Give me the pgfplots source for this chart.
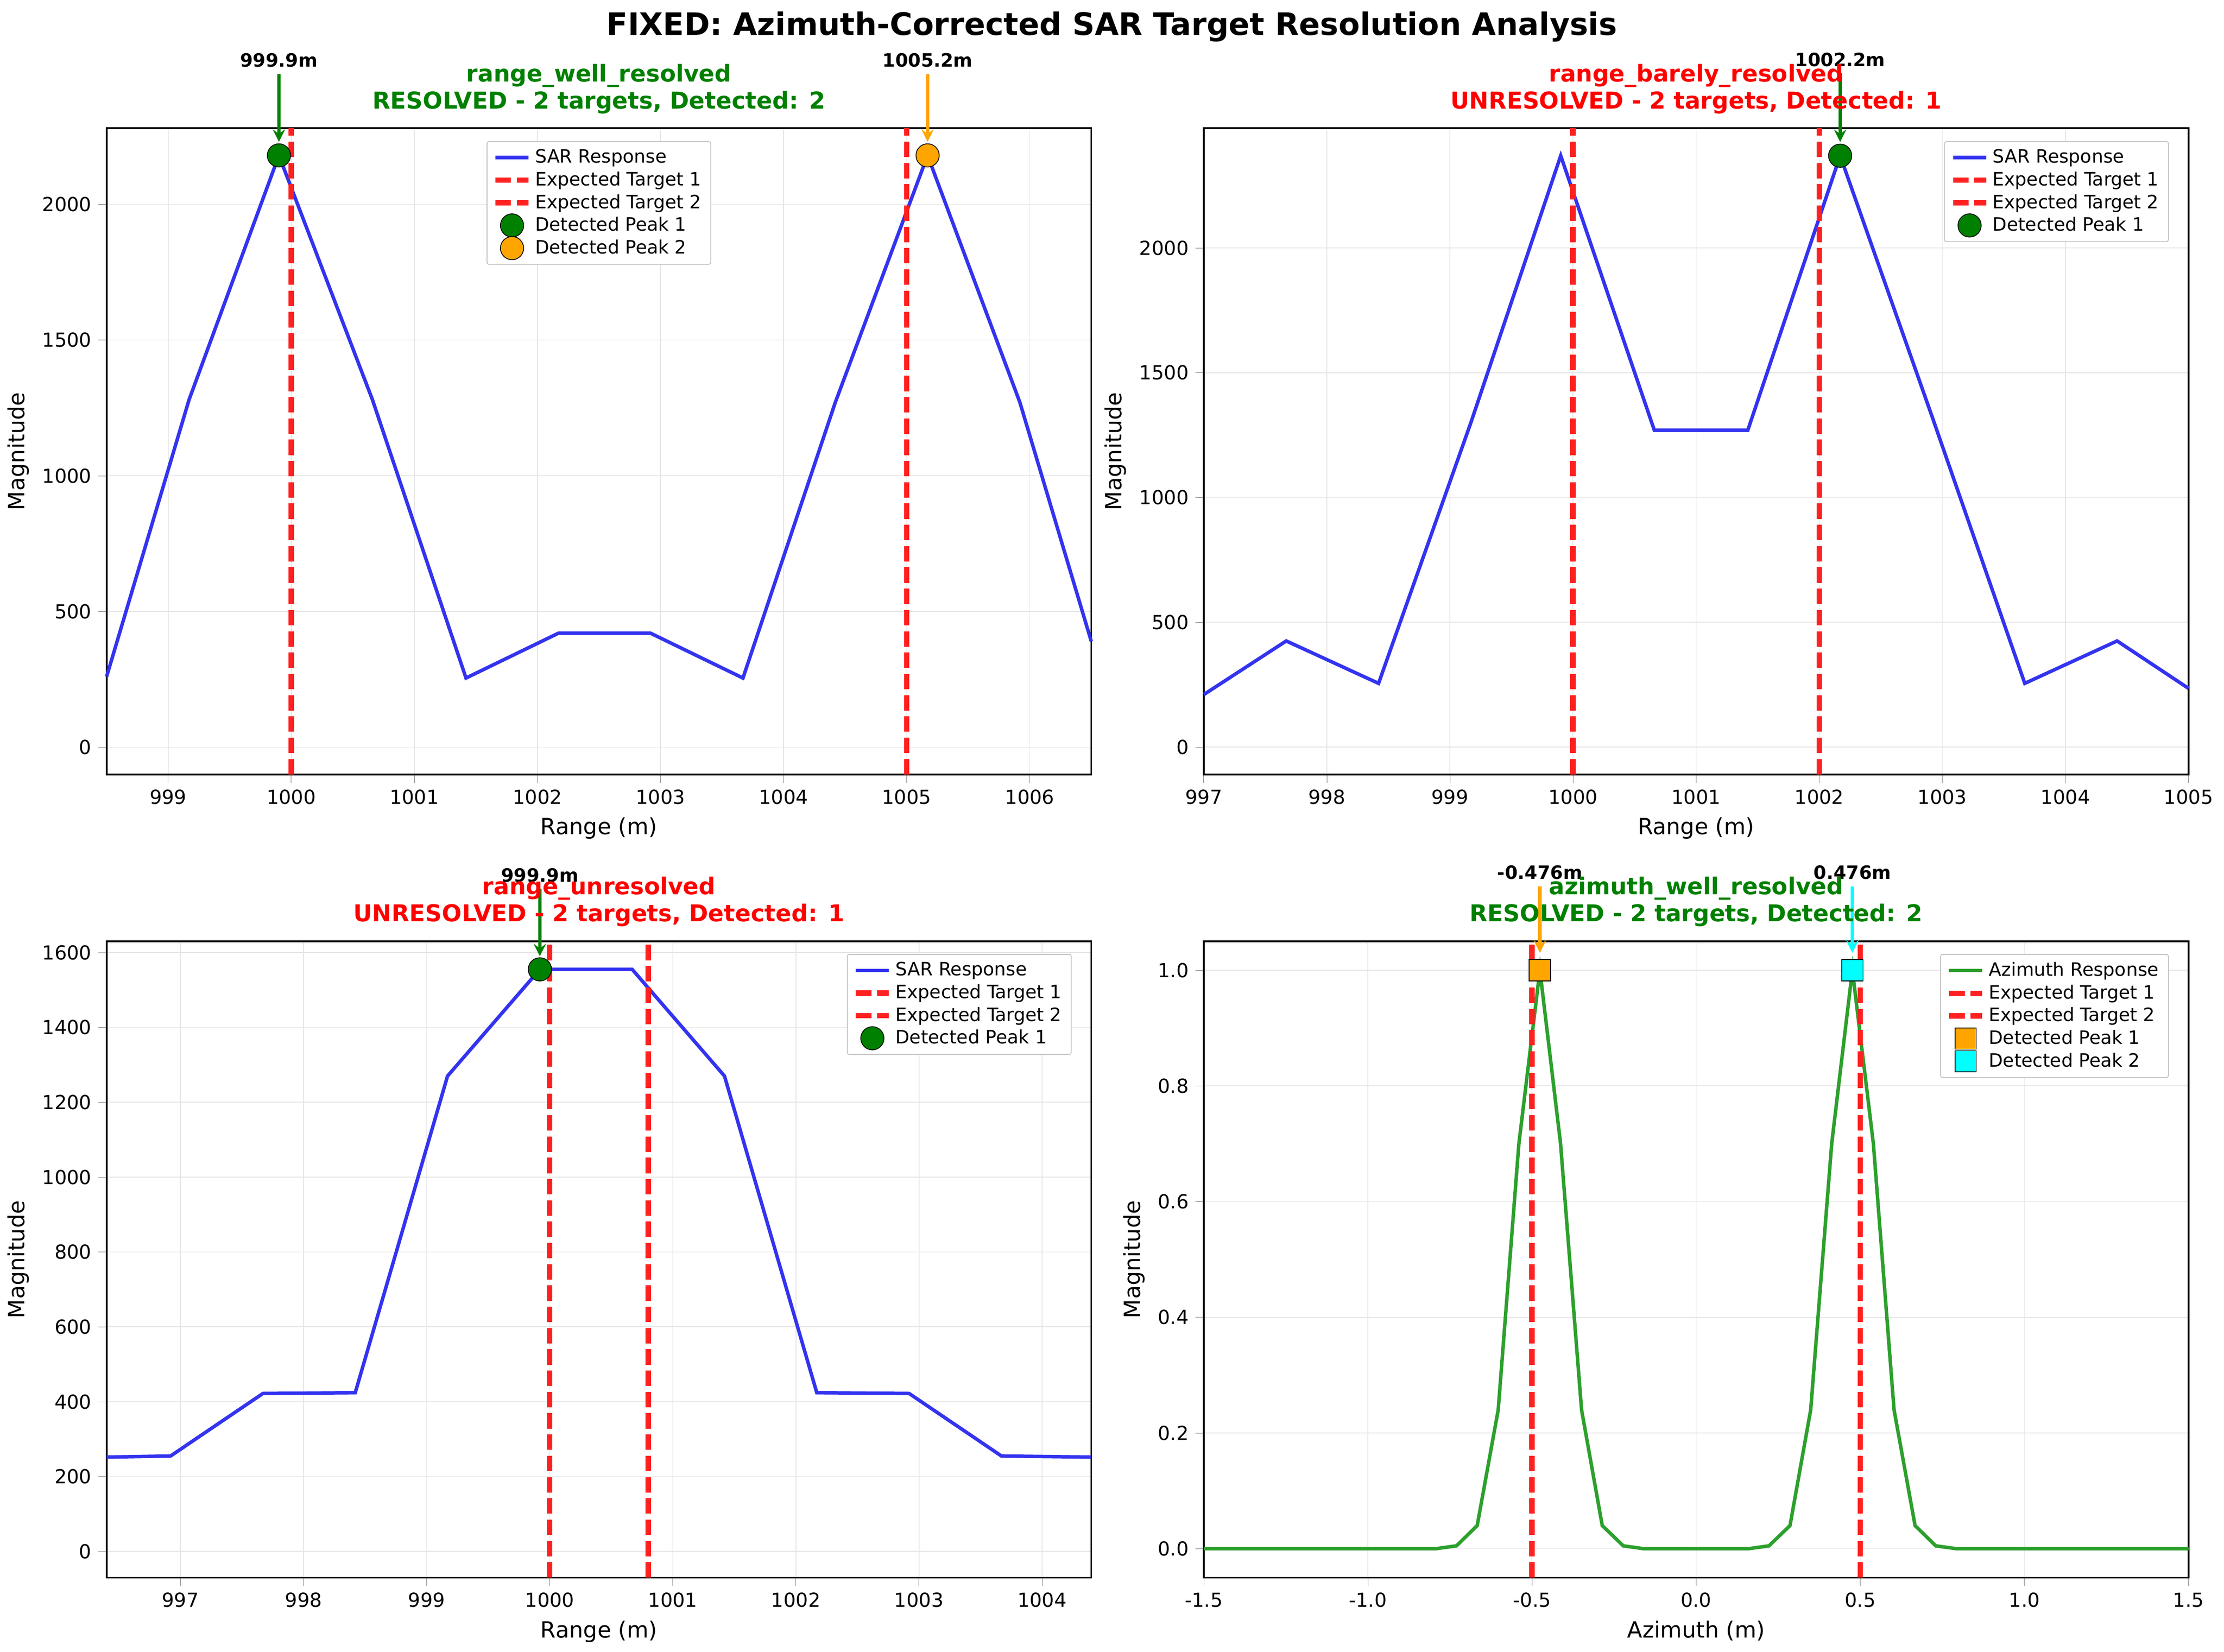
\documentclass[border=0pt]{standalone}
\usepackage{pgfplots}
\pgfplotsset{compat=1.18}
\usepackage{fontspec}
\setmainfont{DejaVu Sans}
\definecolor{sarblue}{HTML}{3333F0}
\definecolor{expred}{HTML}{FF2020}
\definecolor{pkgreen}{HTML}{008000}
\definecolor{pkorange}{HTML}{FFA500}
\definecolor{azgreen}{HTML}{2CA02C}
\definecolor{titlered}{HTML}{FF0000}
\definecolor{pkcyan}{HTML}{00FFFF}
\pgfplotsset{
  base/.style={scale only axis, width=7.04in, clip=false,
    /pgf/number format/assume math mode=true,
    /pgf/number format/1000 sep={},
    axis line style={black, line width=0.9pt},
    tick label style={font=\fontsize{10}{12}\selectfont},
    label style={font=\fontsize{11.5}{13}\selectfont},
    grid=major, major grid style={gray!20},
    tick align=outside, tick pos=left,
    ylabel={Magnitude},
    legend style={font=\fontsize{9.5}{11}\selectfont, draw=gray!50, rounded corners=1pt, row sep=-1pt},
    legend cell align=left,
    title style={font=\bfseries\fontsize{12}{14}\selectfont, align=center, yshift=-2pt},
  },
  sar/.style={sarblue, line width=1.8pt},
  exp/.style={expred, line width=2.8pt, dash pattern=on 8pt off 3pt},
  pk/.style={only marks, mark=*, mark size=6pt, mark options={draw=black, line width=1.6pt}},
  pks/.style={only marks, mark=square*, mark size=5.5pt, mark options={draw=black, line width=1.6pt}},
}
\begin{document}
\begin{tikzpicture}
\path (0,0) rectangle (15.9in,-11.81in);
\node[font=\bfseries\fontsize{16}{18}\selectfont] at (7.95in,-0.19in) {FIXED: Azimuth-Corrected SAR Target Resolution Analysis};

% Panel 1
\begin{axis}[base, at={(0.762in,-5.537in)}, height=4.62in,
  xmin=998.5, xmax=1006.5, ymin=-100, ymax=2280,
  xtick={999,...,1006}, ytick={0,500,1000,1500,2000},
  xlabel={Range (m)},
  title={\color{pkgreen}range\_well\_resolved\\\color{pkgreen}RESOLVED - 2 targets, Detected: 2},
  legend style={at={(0.5,0.98)}, anchor=north}]
\addplot[sar] coordinates {(998.5,260) (999.17,1280) (999.9,2180) (1000.66,1280) (1001.42,255) (1002.17,420) (1002.92,420) (1003.67,255) (1004.42,1270) (1005.17,2180) (1005.92,1270) (1006.5,390)};
\addlegendentry{SAR Response}
\addplot[exp] coordinates {(1000,-100) (1000,2280)};
\addlegendentry{Expected Target 1}
\addplot[exp] coordinates {(1005,-100) (1005,2280)};
\addlegendentry{Expected Target 2}
\addplot[pk, mark options={fill=pkgreen}] coordinates {(999.9,2180)};
\addlegendentry{Detected Peak 1}
\addplot[pk, mark options={fill=pkorange}] coordinates {(1005.17,2180)};
\addlegendentry{Detected Peak 2}
\draw[pkgreen, line width=1.8pt, -stealth] (axis cs:999.9,2480) -- (axis cs:999.9,2230);
\draw[pkorange, line width=1.8pt, -stealth] (axis cs:1005.17,2480) -- (axis cs:1005.17,2230);
\node[font=\bfseries\fontsize{9.5}{11}\selectfont, anchor=south] at (axis cs:999.9,2480) {999.9m};
\node[font=\bfseries\fontsize{9.5}{11}\selectfont, anchor=south] at (axis cs:1005.17,2480) {1005.2m};
\end{axis}

% Panel 2
\begin{axis}[base, at={(8.606in,-5.537in)}, height=4.62in,
  xmin=997, xmax=1005, ymin=-110, ymax=2480,
  xtick={997,...,1005}, ytick={0,500,1000,1500,2000},
  xlabel={Range (m)},
  title={\color{titlered}range\_barely\_resolved\\\color{titlered}UNRESOLVED - 2 targets, Detected: 1},
  legend style={at={(0.98,0.98)}, anchor=north east}]
\addplot[sar] coordinates {(997,210) (997.67,425) (998.42,255) (999.17,1300) (999.9,2370) (1000.66,1270) (1001.42,1270) (1002.17,2370) (1002.92,1320) (1003.67,255) (1004.42,425) (1005,235)};
\addlegendentry{SAR Response}
\addplot[exp] coordinates {(1000,-110) (1000,2480)};
\addlegendentry{Expected Target 1}
\addplot[exp] coordinates {(1002,-110) (1002,2480)};
\addlegendentry{Expected Target 2}
\addplot[pk, mark options={fill=pkgreen}] coordinates {(1002.17,2370)};
\addlegendentry{Detected Peak 1}
\draw[pkgreen, line width=1.8pt, -stealth] (axis cs:1002.17,2700) -- (axis cs:1002.17,2425);
\node[font=\bfseries\fontsize{9.5}{11}\selectfont, anchor=south] at (axis cs:1002.17,2700) {1002.2m};
\end{axis}

% Panel 3
\begin{axis}[base, at={(0.762in,-11.28in)}, height=4.55in,
  xmin=996.4, xmax=1004.4, ymin=-70, ymax=1630,
  xtick={997,...,1004}, ytick={0,200,...,1600},
  xlabel={Range (m)},
  title={\color{titlered}range\_unresolved\\\color{titlered}UNRESOLVED - 2 targets, Detected: 1},
  legend style={at={(0.98,0.98)}, anchor=north east}]
\addplot[sar] coordinates {(996.4,252) (996.92,255) (997.67,422) (998.42,424) (999.17,1270) (999.92,1555) (1000.67,1555) (1001.42,1270) (1002.17,424) (1002.92,422) (1003.67,255) (1004.4,252)};
\addlegendentry{SAR Response}
\addplot[exp] coordinates {(1000,-70) (1000,1630)};
\addlegendentry{Expected Target 1}
\addplot[exp] coordinates {(1000.8,-70) (1000.8,1630)};
\addlegendentry{Expected Target 2}
\addplot[pk, mark options={fill=pkgreen}] coordinates {(999.92,1555)};
\addlegendentry{Detected Peak 1}
\draw[pkgreen, line width=1.8pt, -stealth] (axis cs:999.92,1770) -- (axis cs:999.92,1590);
\node[font=\bfseries\fontsize{9.5}{11}\selectfont, anchor=south] at (axis cs:999.92,1770) {999.9m};
\end{axis}

% Panel 4
\begin{axis}[base, at={(8.606in,-11.28in)}, height=4.55in,
  xmin=-1.5, xmax=1.5, ymin=-0.05, ymax=1.05,
  xtick={-1.5,-1,...,1.5}, ytick={0,0.2,...,1},
  xticklabel style={/pgf/number format/.cd, fixed, fixed zerofill, precision=1},
  yticklabel style={/pgf/number format/.cd, fixed, fixed zerofill, precision=1},
  xlabel={Azimuth (m)},
  title={\color{pkgreen}azimuth\_well\_resolved\\\color{pkgreen}RESOLVED - 2 targets, Detected: 2},
  legend style={at={(0.98,0.98)}, anchor=north east}]
\addplot[azgreen, line width=1.8pt] coordinates {(-1.5,0) (-0.794,0) (-0.730,0.005) (-0.667,0.04) (-0.603,0.24) (-0.540,0.7) (-0.476,1) (-0.413,0.7) (-0.349,0.24) (-0.286,0.04) (-0.222,0.005) (-0.159,0) (0.159,0) (0.222,0.005) (0.286,0.04) (0.349,0.24) (0.413,0.7) (0.476,1) (0.540,0.7) (0.603,0.24) (0.667,0.04) (0.730,0.005) (0.794,0) (1.5,0)};
\addlegendentry{Azimuth Response}
\addplot[exp] coordinates {(-0.5,-0.05) (-0.5,1.05)};
\addlegendentry{Expected Target 1}
\addplot[exp] coordinates {(0.5,-0.05) (0.5,1.05)};
\addlegendentry{Expected Target 2}
\addplot[pks, mark options={fill=pkorange}] coordinates {(-0.476,1)};
\addlegendentry{Detected Peak 1}
\addplot[pks, mark options={fill=pkcyan}] coordinates {(0.476,1)};
\addlegendentry{Detected Peak 2}
\draw[pkorange, line width=1.8pt, -stealth] (axis cs:-0.476,1.145) -- (axis cs:-0.476,1.03);
\draw[pkcyan, line width=1.8pt, -stealth] (axis cs:0.476,1.145) -- (axis cs:0.476,1.03);
\node[font=\bfseries\fontsize{9.5}{11}\selectfont, anchor=south] at (axis cs:-0.476,1.145) {-0.476m};
\node[font=\bfseries\fontsize{9.5}{11}\selectfont, anchor=south] at (axis cs:0.476,1.145) {0.476m};
\end{axis}
\end{tikzpicture}
\end{document}
